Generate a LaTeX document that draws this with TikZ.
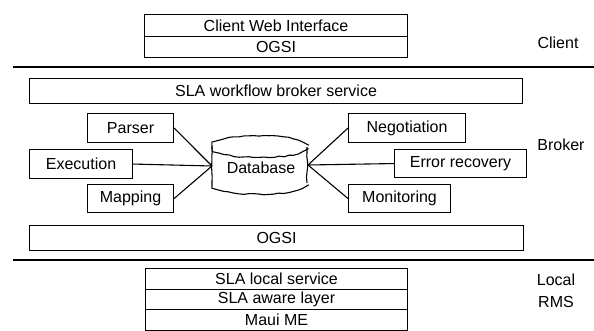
\documentclass[tikz,border=0pt]{standalone}
\usepackage{fontspec}
\setmainfont{Liberation Sans}
\usetikzlibrary{decorations.pathmorphing}
\begin{document}
\begin{tikzpicture}[x=1pt,y=-1pt,
  font=\fontsize{16}{19}\selectfont,
  box/.style={draw,line width=1.1pt,rectangle,inner sep=0pt,anchor=north west},
  conn/.style={line width=1.1pt},
  rule/.style={line width=1.2pt},
  wobble/.style={line width=1.1pt,decorate,decoration={random steps,segment length=5pt,amplitude=0.6pt}}]
\useasboundingbox (0,0) rectangle (594,331);
\pgfmathsetseed{7}
% client stack
\node[box,minimum width=263pt,minimum height=22pt] (cwi) at (144,14) {Client Web Interface};
\node[box,minimum width=263pt,minimum height=21pt] (cogsi) at (144,36) {OGSI};
\node (client) at (558,43) {Client};
\coordinate (l1a) at (13,67); \coordinate (l1b) at (594,67);
\draw[rule] (l1a) -- (l1b);
% broker
\node[box,minimum width=493pt,minimum height=25pt] (sla) at (29,78) {SLA workflow broker service};
\node[box,minimum width=86pt,minimum height=29pt] (parser) at (87,113) {Parser};
\node[box,minimum width=103pt,minimum height=29pt] (exec) at (29,149) {Execution};
\node[box,minimum width=86pt,minimum height=28pt] (map) at (87,184) {Mapping};
\node[box,minimum width=117pt,minimum height=29pt] (neg) at (348,113) {Negotiation};
\node[box,minimum width=132pt,minimum height=28pt] (err) at (394,149) {Error recovery};
\node[box,minimum width=102pt,minimum height=28pt] (mon) at (348,184) {Monitoring};
% database cylinder
\draw[wobble] (212,147) .. controls (212,132) and (307,132) .. (307,147);
\draw[wobble] (212,147) .. controls (212,161) and (307,161) .. (307,147);
\draw[wobble] (307,147) -- (307,183);
\draw[wobble] (212,147) -- (212,183);
\draw[wobble] (212,183) .. controls (212,198) and (307,198) .. (307,183);
\node (db) at (261,168) {Database};
\coordinate (dbl) at (212,166);
\coordinate (dbr) at (308,165);
\draw[conn] (parser.east) -- (dbl);
\draw[conn] (exec.east) -- (dbl);
\draw[conn] (map.east) -- (dbl);
\draw[conn] (neg.west) -- (dbr);
\draw[conn] (err.west) -- (dbr);
\draw[conn] (mon.west) -- (dbr);
\node (broker) at (561,145) {Broker};
\node[box,minimum width=494pt,minimum height=25pt] (bogsi) at (29,225) {OGSI};
\coordinate (l2a) at (13,260); \coordinate (l2b) at (594,260);
\draw[rule] (l2a) -- (l2b);
% local stack
\node[box,minimum width=262pt,minimum height=21pt] (sls) at (145,268) {SLA local service};
\node[box,minimum width=262pt,minimum height=20pt] (sal) at (145,289) {SLA aware layer};
\node[box,minimum width=262pt,minimum height=21pt] (maui) at (145,309) {Maui ME};
\node (local) at (556,280) {Local};
\node (rms) at (556,302) {RMS};
\end{tikzpicture}
\end{document}
